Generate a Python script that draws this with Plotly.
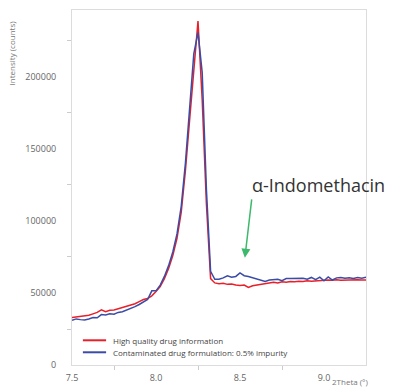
import plotly.graph_objects as go

two_theta = [7.5, 7.525, 7.55, 7.575, 7.6, 7.625, 7.65, 7.675, 7.7, 7.725,
             7.75, 7.775, 7.8, 7.825, 7.85, 7.875, 7.9, 7.925, 7.95, 7.975,
             8.0, 8.025, 8.05, 8.075, 8.1, 8.125, 8.15, 8.175, 8.2, 8.225,
             8.25, 8.275, 8.3, 8.325, 8.35, 8.375, 8.4, 8.425, 8.45, 8.475,
             8.5, 8.525, 8.55, 8.575, 8.6, 8.625, 8.65, 8.675, 8.7, 8.725,
             8.75, 8.775, 8.8, 8.825, 8.85, 8.875, 8.9, 8.925, 8.95, 8.975,
             9.0, 9.025, 9.05, 9.075, 9.1, 9.125, 9.15, 9.175, 9.2, 9.225, 9.25]

high_quality = [32900, 33200, 33500, 34000, 34500, 35500, 36500, 38300, 37000, 38000,
                38200, 39000, 39800, 40500, 41500, 42500, 44000, 45500, 46200, 48000,
                51000, 54500, 60000, 67000, 76000, 88000, 106000, 135000, 170000, 205000,
                238900, 184000, 112000, 60000, 57000, 56500, 56800, 56000, 56300, 55500,
                55200, 55500, 53800, 55000, 55500, 56000, 56500, 57000, 57500, 57000,
                57800, 57500, 58000, 57800, 58200, 58000, 58500, 58200, 58500, 58300,
                58800, 59000, 58800, 59200, 58900, 59000, 59300, 58900, 59200, 59000, 59100]

contaminated = [31000, 32000, 31500, 31200, 32000, 33000, 32800, 35000, 34800, 35500,
                35300, 36500, 37000, 38000, 39000, 40500, 42000, 43500, 45500, 51500,
                51500, 55500, 61500, 69000, 78500, 91000, 110000, 140000, 178000, 216000,
                231000, 203000, 122000, 65000, 59500, 59500, 60500, 62000, 61000, 61500,
                63900, 62000, 61500, 60500, 59500, 58500, 58000, 59000, 59000, 59500,
                58500, 60000, 60000, 60200, 60000, 60300, 59500, 60800, 59200, 61000,
                58500, 61200, 59000, 60500, 60800, 60200, 60500, 60000, 60700, 60300, 61000]

series_names = ["High quality drug information",
                "Contaminated drug formulation: 0.5% impurity"]
series_colors = ["#e8202a", "#3a4ca6"]

FONT = "Open Sans"

fig = go.Figure()
for name, ys, col in zip(series_names, [high_quality, contaminated], series_colors):
    fig.add_trace(go.Scatter(x=two_theta, y=ys, mode="lines", name=name,
                             line=dict(color=col, width=1.5), showlegend=False))

annotations = [
    dict(text="Intensity (counts)", xref="paper", yref="paper",
         x=-0.205, y=0.977, xanchor="center", yanchor="top", textangle=-90,
         showarrow=False, font=dict(size=8, color="#777777")),
    dict(text="2Theta (°)", xref="paper", yref="paper",
         x=1.012, y=-0.029, xanchor="right", yanchor="top", borderpad=0,
         showarrow=False, font=dict(size=8, color="#777777")),
    dict(text="α-Indomethacin", xref="paper", yref="paper",
         x=0.607, y=0.508, xanchor="left", yanchor="middle",
         showarrow=False, font=dict(size=18, color="#333333")),
    dict(text="", xref="paper", yref="paper",
         x=0.588, y=0.302, ax=7, ay=-60, showarrow=True,
         arrowhead=2, arrowsize=1.2, arrowwidth=1.5, arrowcolor="#3cb96a",
         standoff=0, startstandoff=0),
]
shapes = []

# compact legend drawn inside the plot (bottom-left)
legend_rows_y = [0.0696, 0.0358]
for name, col, ly in zip(series_names, series_colors, legend_rows_y):
    shapes.append(dict(type="line", xref="paper", yref="paper",
                       x0=0.037, x1=0.116, y0=ly, y1=ly,
                       line=dict(color=col, width=2)))
    annotations.append(dict(text=name, xref="paper", yref="paper", x=0.134, y=ly,
                            xanchor="left", yanchor="middle", showarrow=False,
                            font=dict(size=8, color="#444444")))

fig.update_layout(
    width=394, height=389,
    margin=dict(l=72, r=28, t=10, b=24),
    paper_bgcolor="white", plot_bgcolor="white",
    font=dict(family=FONT, size=8, color="#666666"),
    showlegend=False,
    xaxis=dict(range=[7.5, 9.25], tickvals=[7.5, 8.0, 8.5, 9.0],
               ticktext=["7.5", "8.0", "8.5", "9.0"], automargin=False,
               showgrid=False, zeroline=False, showline=True,
               linecolor="#dcdcdc", linewidth=1, mirror=True,
               ticks="", ticklabelstandoff=4, tickfont=dict(size=9, color="#666666"),
               minor=dict(tickvals=[7.75, 8.25, 8.75], ticks="outside",
                          ticklen=4, tickcolor="#cccccc", showgrid=False)),
    yaxis=dict(range=[0, 246500], tickvals=[0, 50000, 100000, 150000, 200000],
               ticktext=["0", "50000", "100000", "150000", "200000"], automargin=False,
               showgrid=False, zeroline=False, showline=True,
               linecolor="#dcdcdc", linewidth=1, mirror=True,
               ticks="", ticklabelstandoff=13, tickfont=dict(size=9, color="#666666"),
               minor=dict(tickvals=[25000, 75000, 125000, 175000, 225000],
                          ticks="outside", ticklen=4, tickcolor="#cccccc",
                          showgrid=False)),
    annotations=annotations,
    shapes=shapes,
)

fig.write_html("out.html")
